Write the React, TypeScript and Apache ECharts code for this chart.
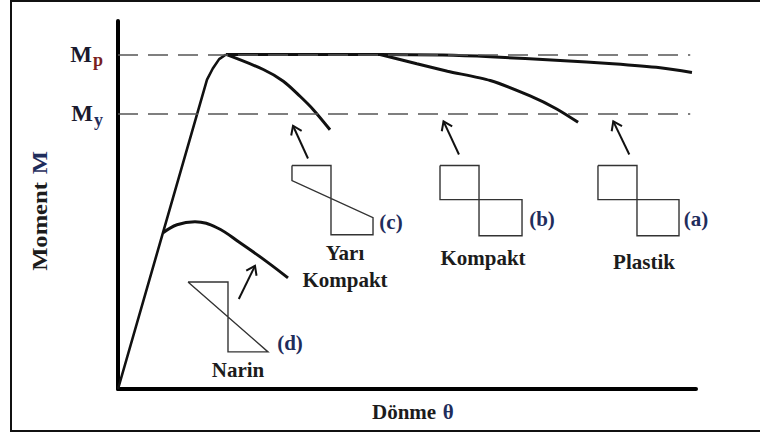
import React, { useEffect, useRef } from "react";
import * as echarts from "echarts";

// Moment–rotation curves (θ in arbitrary units 0..100, M relative to Mp)
const elasticLine: number[][] = [[0, 0], [15.4, 0.925], [16.4, 0.958], [17.5, 0.986], [18.69, 1.0]];
const plastikA: number[][] = [[18.69, 1.0], [45.33, 1.0], [56.2, 0.998], [64.4, 0.993], [76.5, 0.982], [85.6, 0.972], [93.8, 0.96], [99.3, 0.946]];
const kompaktB: number[][] = [[45.33, 1.0], [51.7, 0.972], [57.0, 0.95], [64.4, 0.922], [71.3, 0.876], [75.9, 0.837], [79.6, 0.797]];
const yariKompaktC: number[][] = [[18.69, 1.0], [25.14, 0.955], [28.6, 0.92], [31.49, 0.875], [33.79, 0.835], [36.68, 0.775]];
const narinD: number[][] = [[7.79, 0.467], [10.21, 0.491], [13.32, 0.5], [17.13, 0.482], [21.11, 0.437], [25.78, 0.38], [29.41, 0.332]];

// reference levels
const Mp = 1.0;
const My = 0.823;
const refLineEnd = 99;

// stress-block sketches
const diagramA: number[][] = [[83.04, 0.668], [89.79, 0.668], [89.79, 0.458], [97.06, 0.458], [97.06, 0.566], [83.04, 0.566], [83.04, 0.668]];
const diagramB: number[][] = [[55.71, 0.668], [62.46, 0.668], [62.46, 0.458], [69.9, 0.458], [69.9, 0.566], [55.71, 0.566], [55.71, 0.668]];
const diagramC: number[][] = [[30.1, 0.668], [36.85, 0.668], [36.85, 0.461], [44.12, 0.461], [44.12, 0.512], [30.1, 0.623], [30.1, 0.668]];
const diagramD: number[][] = [[12.11, 0.32], [19.03, 0.32], [19.03, 0.111], [25.95, 0.111], [12.11, 0.32]];

// arrows: [tailX, tailY, tipX, tipY]
const arrows: number[][] = [
  [32.87, 0.689, 30.28, 0.787],
  [58.99, 0.701, 56.32, 0.8],
  [88.46, 0.701, 85.69, 0.8],
  [20.9, 0.269, 23.7, 0.368],
];

const SERIF = '"Liberation Serif", "DejaVu Serif", "Times New Roman", serif';
const INK = "#1c1c1c";
const NAVY = "#1f2d5c";
const RED = "#7a1f1f";

export default function App() {
  const ref = useRef<HTMLDivElement>(null);
  useEffect(() => {
    if (!ref.current) return;
    const chart = echarts.init(ref.current, null, { renderer: "svg" });
    const curveStyle = { color: "#111", width: 3 };
    const txt = (text: string, x: number, y: number, extra: any = {}) => ({
      type: "text",
      x,
      y,
      silent: true,
      style: {
        text,
        fontFamily: SERIF,
        fontWeight: "bold",
        fontSize: 21,
        fill: INK,
        align: "center",
        verticalAlign: "middle",
        ...extra,
      },
    });
    chart.setOption({
      animation: false,
      backgroundColor: "#fff",
      grid: { left: 118, right: 64, top: 21, bottom: 45 },
      xAxis: {
        type: "value",
        min: 0,
        max: 100,
        axisLine: { show: true, lineStyle: { color: "#000", width: 4 } },
        axisTick: { show: false },
        axisLabel: { show: false },
        splitLine: { show: false },
      },
      yAxis: {
        type: "value",
        min: 0,
        max: 1.1,
        axisLine: { show: true, lineStyle: { color: "#000", width: 4 } },
        axisTick: { show: false },
        axisLabel: { show: false },
        splitLine: { show: false },
      },
      graphic: [
        {
          type: "rect",
          silent: true,
          shape: { x: 11, y: 1, width: 760, height: 430 },
          style: { fill: "none", stroke: "#111", lineWidth: 2 },
        },
        txt("(c)", 391, 222, { fill: NAVY }),
        txt("Yarı", 345, 253),
        txt("Kompakt", 345, 280),
        txt("(b)", 542, 219, { fill: NAVY }),
        txt("Kompakt", 483, 258),
        txt("(a)", 696, 219, { fill: NAVY }),
        txt("Plastik", 644, 262),
        txt("(d)", 290, 343, { fill: NAVY }),
        txt("Narin", 238, 370),
        {
          type: "text",
          x: 372,
          y: 412,
          silent: true,
          style: {
            text: "{a|Dönme}  {b|θ}",
            align: "left",
            verticalAlign: "middle",
            rich: {
              a: { fontFamily: SERIF, fontWeight: "bold", fontSize: 21, fill: INK, color: INK },
              b: { fontFamily: SERIF, fontWeight: "bold", fontSize: 21, fill: NAVY, color: NAVY },
            },
          },
        },
        {
          type: "text",
          x: 40,
          y: 211,
          rotation: Math.PI / 2,
          scaleX: 1.17,
          silent: true,
          style: {
            text: "{a|Moment}  {b|M}",
            align: "center",
            verticalAlign: "middle",
            rich: {
              a: { fontFamily: SERIF, fontWeight: "bold", fontSize: 21, fill: INK, color: INK },
              b: { fontFamily: SERIF, fontWeight: "bold", fontSize: 21, fill: NAVY, color: NAVY },
            },
          },
        },
      ],
      series: [
        {
          name: "elastic",
          type: "line",
          data: elasticLine,
          showSymbol: false,
          symbol: "none",
          lineStyle: { color: "#111", width: 2.6 },
          silent: true,
          z: 3,
          markLine: {
            silent: true,
            symbol: "none",
            animation: false,
            lineStyle: { type: [20, 10], color: "#555", width: 1.6 },
            label: {
              show: true,
              position: "start",
              distance: 15,
              formatter: (p: any) => (p.name === "Mp" ? "{m|M}{sp|p}" : "{m|M}{sy|y}"),
              rich: {
                m: { fontFamily: SERIF, fontWeight: "bold", fontSize: 23, color: "#1a1a2e" },
                sp: { fontFamily: SERIF, fontWeight: "bold", fontSize: 18, color: RED, padding: [12, 0, 0, 1] },
                sy: { fontFamily: SERIF, fontWeight: "bold", fontSize: 18, color: NAVY, padding: [12, 0, 0, 1] },
              },
            },
            data: [
              [{ name: "Mp", coord: [0, Mp] }, { coord: [refLineEnd, Mp] }],
              [{ name: "My", coord: [0, My] }, { coord: [refLineEnd, My] }],
            ],
          },
        },
        { name: "Plastik (a)", type: "line", data: plastikA, smooth: 0.3, symbol: "none", lineStyle: curveStyle, silent: true, z: 3 },
        { name: "Kompakt (b)", type: "line", data: kompaktB, smooth: 0.25, symbol: "none", lineStyle: curveStyle, silent: true, z: 3 },
        { name: "Yarı Kompakt (c)", type: "line", data: yariKompaktC, smooth: 0.3, symbol: "none", lineStyle: curveStyle, silent: true, z: 3 },
        { name: "Narin (d)", type: "line", data: narinD, smooth: 0.4, symbol: "none", lineStyle: curveStyle, silent: true, z: 3 },
        {
          name: "diagrams",
          type: "lines",
          coordinateSystem: "cartesian2d",
          polyline: true,
          silent: true,
          lineStyle: { color: "#333", width: 1.4, opacity: 1 },
          data: [diagramA, diagramB, diagramC, diagramD].map((c) => ({ coords: c })),
        },
        {
          name: "arrows",
          type: "custom",
          silent: true,
          clip: false,
          encode: { x: [0, 2], y: [1, 3] },
          data: arrows,
          renderItem: (_params: any, api: any) => {
            const tail = api.coord([api.value(0), api.value(1)]);
            const tip = api.coord([api.value(2), api.value(3)]);
            const dx = tail[0] - tip[0];
            const dy = tail[1] - tip[1];
            const len = Math.hypot(dx, dy) || 1;
            const ux = dx / len;
            const uy = dy / len;
            const ang = (35 * Math.PI) / 180;
            const arm = 10;
            const rot = (a: number) => [
              tip[0] + arm * (ux * Math.cos(a) - uy * Math.sin(a)),
              tip[1] + arm * (ux * Math.sin(a) + uy * Math.cos(a)),
            ];
            const s = { stroke: "#111", lineWidth: 2, fill: "none" };
            return {
              type: "group",
              children: [
                { type: "line", shape: { x1: tail[0], y1: tail[1], x2: tip[0], y2: tip[1] }, style: s },
                { type: "polyline", shape: { points: [rot(ang), tip, rot(-ang)] }, style: s },
              ],
            };
          },
        },
      ],
    });
    return () => chart.dispose();
  }, []);
  return (
    <div
      ref={ref}
      style={{ position: "fixed", left: 0, top: 0, width: 760, height: 434, background: "#fff" }}
    />
  );
}
